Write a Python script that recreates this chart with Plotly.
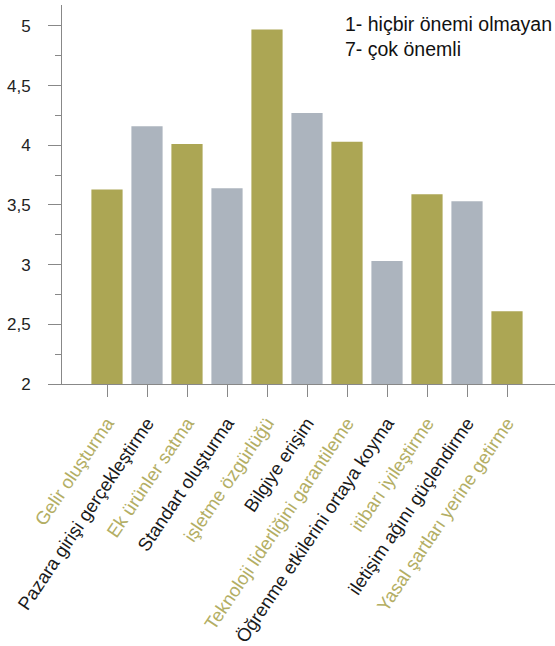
import plotly.graph_objects as go

categories = ["Gelir oluşturma", "Pazara girişi gerçekleştirme", "Ek ürünler satma",
              "Standart oluşturma", "işletme özgürlüğü", "Bilgiye erişim",
              "Teknoloji liderliğini garantileme", "Öğrenme etkilerini ortaya koyma",
              "itibarı iyileştirme", "iletişim ağını güçlendirme", "Yasal şartları yerine getirme"]
values = [3.63, 4.16, 4.01, 3.64, 4.97, 4.27, 4.03, 3.03, 3.59, 3.53, 2.61]
bar_colors = ["#ACA654", "#ACB4BE"] * 6
label_colors = ["#B3AE64", "#1a1a1a"] * 6
legend_lines = ["1- hiçbir önemi olmayan", "7- çok önemli"]

x = list(range(len(categories)))
ticktext = [f"<span style='color:{label_colors[i]}'>{c}</span>" for i, c in enumerate(categories)]

fig = go.Figure(go.Bar(
    x=x, y=values,
    marker=dict(color=bar_colors[:len(values)], line=dict(width=0)),
    width=0.78,
))

fig.update_layout(
    width=555, height=646,
    margin=dict(l=62, r=0, t=5, b=260),
    paper_bgcolor="white", plot_bgcolor="white",
    separators=", ",
    showlegend=False,
    font=dict(family="Liberation Sans, Arial, sans-serif", color="#1a1a1a"),
)
fig.update_xaxes(
    range=[-1.125, 11.2],
    tickmode="array", tickvals=x, ticktext=ticktext,
    tickangle=-56,
    tickfont=dict(size=18.5),
    ticks="outside", ticklen=12, tickcolor="#888", tickwidth=1,
    showline=True, linecolor="#888", linewidth=1,
    showgrid=False, zeroline=False,
    ticklabelstandoff=8,
)
fig.update_yaxes(
    range=[2, 5.175],
    tickmode="array", tickvals=[2, 2.5, 3, 3.5, 4, 4.5, 5],
    ticktext=["2", "2,5", "3", "3,5", "4", "4,5", "5"],
    tickfont=dict(size=17, color="#222"),
    ticks="outside", ticklen=13, tickcolor="#888", tickwidth=1,
    minor=dict(dtick=0.25, tick0=2, ticks="outside", ticklen=6, tickcolor="#888", showgrid=False),
    showline=True, linecolor="#888", linewidth=1,
    showgrid=False, zeroline=False,
    ticklabelstandoff=14,
)
fig.add_annotation(
    x=1, y=1, xref="paper", yref="paper", xanchor="right", yanchor="top",
    xshift=-1, yshift=-6,
    text="<br>".join(legend_lines), showarrow=False, align="left",
    font=dict(size=19.5, color="#111"),
)
fig.write_html("out.html")
